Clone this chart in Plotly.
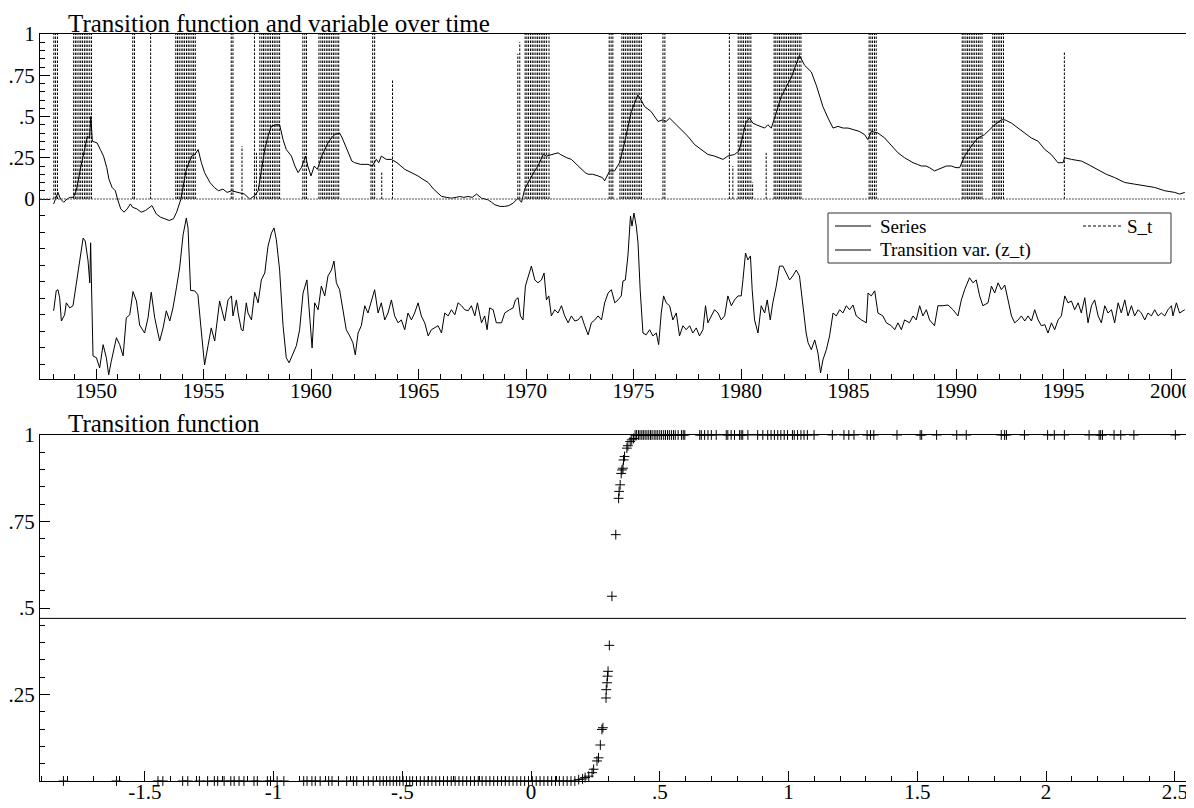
import plotly.graph_objects as go

# ---------------- data ----------------
# Top panel: "Series" (decimal year, value)
series_t = [
 1948.03, 1948.15, 1948.23, 1948.35, 1948.5, 1948.65, 1948.8, 1948.95, 1949.1, 1949.3,
 1949.5, 1949.6, 1949.7, 1949.76, 1949.83, 1950.05, 1950.2, 1950.35, 1950.5, 1950.6,
 1950.75, 1950.9, 1951.0, 1951.15, 1951.3, 1951.45, 1951.6, 1951.7, 1951.9, 1952.1,
 1952.3, 1952.5, 1952.6, 1952.8, 1953.0, 1953.2, 1953.4, 1953.6, 1953.75, 1953.95,
 1954.2, 1954.45, 1954.6, 1954.75, 1954.9, 1955.05, 1955.3, 1955.5, 1955.7, 1955.9,
 1956.1, 1956.3, 1956.6, 1956.9, 1957.15, 1957.38, 1957.54, 1957.7, 1957.85, 1958.0,
 1958.15, 1958.35, 1958.54, 1958.7, 1958.85, 1959.09, 1959.25, 1959.4, 1959.55, 1959.75,
 1959.85, 1960.0, 1960.15, 1960.3, 1960.5, 1960.79, 1960.95, 1961.1, 1961.33, 1961.45,
 1961.6, 1961.72, 1961.9, 1962.03, 1962.3, 1962.65, 1962.85, 1963.04, 1963.15, 1963.27,
 1963.5, 1963.74, 1964.0, 1964.36, 1964.7, 1964.97, 1965.2, 1965.45, 1965.7, 1965.9,
 1966.07, 1966.3, 1966.53, 1966.75, 1966.92, 1967.1, 1967.3, 1967.5, 1967.7, 1967.93,
 1968.24, 1968.4, 1968.55, 1968.8, 1969.0, 1969.2, 1969.4, 1969.63, 1969.79, 1969.94,
 1970.1, 1970.25, 1970.4, 1970.56, 1970.7, 1970.8, 1970.95, 1971.18, 1971.49, 1971.6,
 1971.72, 1971.9, 1972.11, 1972.35, 1972.58, 1972.75, 1972.89, 1973.1, 1973.35, 1973.55,
 1973.66, 1973.89, 1974.12, 1974.35, 1974.58, 1974.75, 1974.9, 1975.05, 1975.2, 1975.35,
 1975.52, 1975.82, 1976.0, 1976.14, 1976.37, 1976.52, 1976.68, 1976.91, 1977.22, 1977.53,
 1977.84, 1978.15, 1978.46, 1978.77, 1979.0, 1979.16, 1979.39, 1979.7, 1979.9, 1980.01,
 1980.15, 1980.24, 1980.4, 1980.55, 1980.71, 1980.9, 1981.1, 1981.25, 1981.41, 1981.56,
 1981.72, 1981.87, 1982.03, 1982.18, 1982.35, 1982.49, 1982.62, 1982.72, 1982.96, 1983.12,
 1983.27, 1983.5, 1983.65, 1983.81, 1984.05, 1984.28, 1984.51, 1984.75, 1984.98, 1985.29,
 1985.5, 1985.75, 1985.9, 1986.06, 1986.37, 1986.68, 1987.0, 1987.3, 1987.61, 1988.0,
 1988.2, 1988.39, 1988.6, 1988.77, 1989.0, 1989.32, 1989.55, 1989.78, 1990.0, 1990.17,
 1990.4, 1990.71, 1991.02, 1991.33, 1991.64, 1991.8, 1992.11, 1992.27, 1992.58, 1992.9,
 1993.2, 1993.5, 1993.82, 1994.13, 1994.43, 1994.74, 1994.98, 1995.05, 1995.37, 1995.83,
 1996.14, 1996.6, 1996.99, 1997.38, 1997.85, 1998.31, 1998.78, 1999.24, 1999.71, 2000.17,
 2000.4, 2000.64,
]
series_v = [
 -0.03, 0.02, 0.04, 0.0, -0.02, 0.0, 0.01, 0.01, 0.06, 0.2,
 0.33, 0.38, 0.37, 0.5, 0.35, 0.34, 0.3, 0.26, 0.19, 0.12,
 0.07, 0.05, 0.0, -0.06, -0.08, -0.06, -0.03, -0.05, -0.06, -0.08,
 -0.07, -0.05, -0.04, -0.09, -0.11, -0.12, -0.13, -0.12, -0.08, 0.0,
 0.18, 0.26, 0.27, 0.3, 0.22, 0.16, 0.1, 0.07, 0.05, 0.06,
 0.04, 0.05, 0.04, 0.03, 0.0, 0.02, 0.05, 0.18, 0.3, 0.38,
 0.44, 0.45, 0.45, 0.36, 0.3, 0.26, 0.2, 0.16, 0.19, 0.26,
 0.2, 0.14, 0.2, 0.18, 0.26, 0.34, 0.37, 0.39, 0.4, 0.37,
 0.32, 0.28, 0.23, 0.22, 0.21, 0.21, 0.2, 0.24, 0.22, 0.26,
 0.24, 0.24, 0.22, 0.18, 0.16, 0.14, 0.12, 0.1, 0.06, 0.035,
 0.016, 0.01, 0.005, 0.01, 0.015, 0.01, 0.015, 0.01, 0.03, 0.005,
 -0.005, -0.02, -0.035, -0.045, -0.045, -0.04, -0.025, 0.005, -0.02, 0.06,
 0.1, 0.14, 0.17, 0.2, 0.24, 0.27, 0.26, 0.27, 0.28, 0.27,
 0.26, 0.25, 0.24, 0.21, 0.18, 0.16, 0.15, 0.15, 0.14, 0.13,
 0.11, 0.17, 0.17, 0.22, 0.34, 0.44, 0.53, 0.58, 0.63, 0.6,
 0.56, 0.53, 0.5, 0.47, 0.48, 0.47, 0.49, 0.46, 0.42, 0.38,
 0.33, 0.3, 0.27, 0.26, 0.25, 0.24, 0.26, 0.27, 0.29, 0.34,
 0.42, 0.47, 0.49, 0.46, 0.45, 0.44, 0.43, 0.45, 0.43, 0.49,
 0.56, 0.62, 0.66, 0.7, 0.74, 0.79, 0.83, 0.87, 0.81, 0.79,
 0.77, 0.69, 0.62, 0.56, 0.49, 0.43, 0.44, 0.43, 0.43, 0.42,
 0.41, 0.39, 0.36, 0.41, 0.4, 0.37, 0.32, 0.28, 0.25, 0.22,
 0.21, 0.2, 0.2, 0.19, 0.17, 0.19, 0.2, 0.2, 0.19, 0.19,
 0.26, 0.32, 0.37, 0.39, 0.43, 0.45, 0.48, 0.48, 0.46, 0.43,
 0.4, 0.37, 0.35, 0.3, 0.27, 0.22, 0.22, 0.25, 0.24, 0.23,
 0.21, 0.18, 0.15, 0.13, 0.1, 0.09, 0.08, 0.07, 0.05, 0.04,
 0.03, 0.04,
]

# Top panel: "Transition var. (z_t)" (decimal year, z value in the units of the lower x axis)
z_t = [
 1948.03, 1948.15, 1948.23, 1948.31, 1948.39, 1948.54, 1948.62, 1948.78, 1948.93, 1949.01,
 1949.16, 1949.40, 1949.50, 1949.63, 1949.71, 1949.75, 1949.86, 1950.02, 1950.17, 1950.33,
 1950.48, 1950.59, 1950.71, 1950.95, 1951.10, 1951.26, 1951.41, 1951.57, 1951.72, 1951.88,
 1952.03, 1952.26, 1952.42, 1952.57, 1952.73, 1952.96, 1953.12, 1953.27, 1953.43, 1953.58,
 1953.74, 1953.89, 1954.05, 1954.20, 1954.28, 1954.40, 1954.59, 1954.74, 1954.87, 1955.05,
 1955.21, 1955.36, 1955.52, 1955.75, 1955.98,
 1956.14, 1956.30, 1956.37, 1956.53, 1956.61, 1956.76, 1956.84, 1956.99, 1957.07, 1957.23,
 1957.38, 1957.54, 1957.69, 1957.85, 1958.00, 1958.16, 1958.28, 1958.39, 1958.54, 1958.70,
 1958.85, 1958.98, 1959.16, 1959.32, 1959.47, 1959.63, 1959.81, 1959.94, 1960.05, 1960.17,
 1960.33, 1960.48, 1960.64, 1960.79, 1960.95, 1961.07, 1961.18, 1961.33, 1961.49, 1961.64,
 1961.80, 1961.95, 1962.06, 1962.19, 1962.34, 1962.50, 1962.65, 1962.81, 1962.96, 1963.12,
 1963.27, 1963.43, 1963.58, 1963.74, 1963.89, 1964.05, 1964.20, 1964.36, 1964.51, 1964.67,
 1964.82, 1964.98, 1965.13, 1965.29,
 1965.45, 1965.60, 1965.76, 1965.91, 1966.07, 1966.22, 1966.38, 1966.53, 1966.69, 1966.84,
 1967.00, 1967.15, 1967.31, 1967.46, 1967.62, 1967.74, 1967.93, 1968.08, 1968.19, 1968.31,
 1968.47, 1968.62, 1968.86, 1969.01, 1969.24, 1969.40, 1969.51, 1969.63, 1969.74, 1969.86,
 1969.97, 1970.10, 1970.25, 1970.41, 1970.56, 1970.72, 1970.84, 1970.95, 1971.06, 1971.18,
 1971.34, 1971.49, 1971.65, 1971.80, 1971.96, 1972.11, 1972.27, 1972.42, 1972.58, 1972.73,
 1972.89, 1973.04, 1973.20, 1973.35, 1973.51, 1973.66, 1973.82, 1973.97, 1974.13,
 1974.28, 1974.43, 1974.51, 1974.62, 1974.74, 1974.86, 1974.93, 1975.02, 1975.13, 1975.21,
 1975.31, 1975.44, 1975.59, 1975.75, 1975.90, 1976.06, 1976.17, 1976.29, 1976.40, 1976.52,
 1976.68, 1976.83, 1976.99, 1977.14, 1977.30, 1977.45, 1977.61, 1977.76, 1977.92, 1978.07,
 1978.23, 1978.35, 1978.46, 1978.62, 1978.77, 1978.93, 1979.08, 1979.24, 1979.39, 1979.55,
 1979.70, 1979.86, 1980.01, 1980.09, 1980.21, 1980.32, 1980.44, 1980.52, 1980.63, 1980.79,
 1980.94, 1981.10, 1981.22, 1981.36, 1981.48, 1981.64, 1981.79, 1981.95, 1982.10, 1982.26,
 1982.41, 1982.57, 1982.72, 1982.88, 1983.03,
 1983.12, 1983.27, 1983.43, 1983.58, 1983.70, 1983.81, 1983.97, 1984.12, 1984.28, 1984.43,
 1984.59, 1984.74, 1984.90, 1985.05, 1985.21, 1985.36, 1985.60, 1985.83, 1985.91, 1986.06,
 1986.22, 1986.37, 1986.60, 1986.76, 1986.99, 1987.15, 1987.30, 1987.46, 1987.61, 1987.84,
 1988.00, 1988.15, 1988.31, 1988.46, 1988.62, 1988.77, 1989.00, 1989.16, 1989.39, 1989.63,
 1989.86, 1990.09, 1990.25, 1990.40, 1990.63, 1990.79, 1990.94, 1991.10, 1991.25, 1991.49,
 1991.65, 1991.80, 1991.96, 1992.11, 1992.27, 1992.42, 1992.58, 1992.73, 1992.89, 1993.04,
 1993.20, 1993.35, 1993.51, 1993.66, 1993.82, 1993.97, 1994.13, 1994.28, 1994.44, 1994.59,
 1994.75, 1994.90, 1995.06, 1995.21, 1995.37, 1995.52, 1995.68, 1995.83, 1995.99, 1996.14,
 1996.30, 1996.45, 1996.61, 1996.76, 1996.92, 1997.07, 1997.23, 1997.38, 1997.54, 1997.69,
 1997.85, 1998.00, 1998.16, 1998.31, 1998.47, 1998.62, 1998.78, 1998.93, 1999.09, 1999.24,
 1999.40, 1999.55, 1999.71, 1999.86, 2000.02, 2000.09, 2000.25, 2000.40, 2000.64,
]
z_v = [
 -0.11, 0.44, 0.47, 0.25, -0.39, -0.22, 0.11, -0.03, 0.03, 0.33,
 0.88, 1.89, 1.81, 1.26, 0.66, 1.76, -1.35, -1.4, -1.68, -1.04,
 -1.4, -1.87, -1.5, -0.85, -1.04, -1.35, -0.3, -0.22, 0.42, 0.16,
 -0.5, -0.72, -0.3, 0.4, -0.3, -0.94, -0.58, -0.11, -0.39, -0.03,
 0.52, 1.07, 1.98, 2.44, 2.17, 0.45, 0.44, 0.33, -0.5, -1.6,
 -1.07, -0.58, -0.94, 0.16, -0.39,
 0.19, 0.3, -0.25, 0.19, -0.17, -0.63, -0.66, 0.11, -0.17, -0.36,
 0.4, 0.11, 0.74, 0.93, 1.67, 2.03, 2.17, 1.84, 1.01, -0.52,
 -1.4, -1.54, -1.27, -1.07, -0.63, 0.38, 0.74, -0.25, -1.13, 0.11,
 -0.08, 0.57, 0.3, 0.85, 1.01, 1.26, 0.66, 0.47, -0.08, -0.63,
 -0.8, -0.99, -1.32, -0.72, -0.52, 0.03, -0.17, 0.19, 0.47, -0.17,
 0.11, -0.36, -0.17, 0.19, -0.25, -0.44, -0.36, -0.63, -0.17, -0.36,
 -0.17, 0.11, -0.25, -0.44,
 -0.8, -0.63, -0.58, -0.52, -0.72, -0.17, -0.25, -0.08, -0.22, 0.11,
 0.03, -0.08, -0.11, 0.03, -0.25, 0.11, -0.44, -0.25, -0.63, -0.03,
 -0.08, -0.44, -0.44, -0.17, -0.08, -0.03, 0.19, 0.25, -0.25, -0.36,
 0.57, 0.85, 1.12, 0.74, 0.66, 0.74, 0.93, 0.19, 0.3, -0.25,
 -0.08, -0.17, 0.03, -0.25, -0.44, -0.25, -0.39, -0.36, -0.25, -0.52,
 -0.77, -0.44, -0.36, -0.25, -0.36, 0.11, 0.38, 0.47, 0.11,
 0.19, 0.3, 0.71, 0.74, 1.4, 2.5, 2.22, 2.58, 2.22, 1.76,
 0.47, -0.72, -0.77, -0.63, -0.8, -0.72, -1.04, -0.17, 0.3, 0.11,
 0.03, -0.36, -0.17, -0.8, -0.52, -0.63, -0.52, -0.72, -0.58, -0.8,
 -0.63, 0.03, -0.44, -0.25, -0.08, -0.17, -0.36, -0.25, 0.3, 0.03,
 0.19, 0.3, 0.3, 0.74, 1.48, 1.29, 1.4, 0.47, -0.36, -0.72,
 0.03, -0.17, 0.19, -0.36, 0.11, 0.57, 1.12, 1.12, 0.93, 0.74,
 0.85, 1.01, 0.85, 0.03, -0.72,
 -0.99, -1.18, -0.91, -1.27, -1.82, -1.46, -1.18, -0.8, -0.17, -0.25,
 -0.08, -0.17, 0.03, -0.08, 0.05, -0.25, -0.36, -0.44, 0.38, 0.3,
 0.44, -0.17, -0.25, -0.44, -0.52, -0.63, -0.44, -0.63, -0.36, -0.44,
 -0.25, -0.36, 0.03, -0.25, -0.08, -0.36, -0.52, 0.03, 0.03, 0.05,
 -0.08, -0.25, 0.19, 0.47, 0.8, 0.66, 0.74, 0.3, 0.03, 0.11,
 0.57, 0.38, 0.66, 0.47, 0.6, 0.19, -0.25, -0.44, -0.36, -0.25,
 -0.39, -0.25, -0.39, -0.08, -0.36, -0.52, -0.49, -0.72, -0.44, -0.63,
 -0.36, -0.25, 0.3, 0.11, 0.16, -0.08, 0.11, -0.17, 0.25, -0.44,
 0.03, 0.19, -0.25, -0.44, 0.03, -0.17, -0.08, -0.44, 0.11, -0.17,
 0.19, -0.25, 0.03, -0.25, -0.08, -0.17, -0.36, -0.17, -0.25, -0.08,
 -0.25, -0.17, -0.25, -0.08, 0.03, -0.25, 0.11, -0.17, -0.08,
]

# Top panel: "S_t" drawn as dashed spikes (decimal year, S value)
st_t = [
 1948.04, 1948.12, 1948.21,
 1948.96, 1949.04, 1949.12, 1949.21, 1949.29, 1949.37, 1949.46, 1949.54, 1949.62, 1949.71, 1949.79,
 1951.71, 1951.79,
 1952.54,
 1953.71, 1953.79, 1953.87, 1953.96, 1954.04, 1954.12, 1954.21, 1954.29, 1954.37, 1954.46, 1954.54, 1954.62,
 1956.29, 1956.37, 1956.79,
 1957.37, 1957.46,
 1957.62, 1957.71, 1957.79, 1957.87, 1957.96, 1958.04, 1958.12, 1958.21, 1958.29, 1958.37, 1958.46, 1958.54,
 1959.62, 1959.71, 1959.79,
 1960.37, 1960.46, 1960.54, 1960.62, 1960.71, 1960.79, 1960.87, 1960.96, 1961.04, 1961.12, 1961.21, 1961.29,
 1962.79, 1962.87, 1962.96, 1963.29, 1963.79,
 1969.62, 1969.71,
 1969.96, 1970.04, 1970.12, 1970.21, 1970.29, 1970.37, 1970.46, 1970.54, 1970.62, 1970.71, 1970.79, 1970.87, 1970.96, 1971.07,
 1973.87, 1973.96, 1974.04,
 1974.37,
 1974.46, 1974.54, 1974.62, 1974.71, 1974.79, 1974.87, 1974.96, 1975.04, 1975.12, 1975.21, 1975.29, 1975.37,
 1976.37, 1976.46,
 1979.46, 1979.62,
 1979.87, 1979.96, 1980.04, 1980.12, 1980.21, 1980.29, 1980.37, 1980.46, 1980.54,
 1981.17,
 1981.54, 1981.62, 1981.71, 1981.79, 1981.87, 1981.96, 1982.04, 1982.12, 1982.21, 1982.29, 1982.37, 1982.46, 1982.54, 1982.62, 1982.71, 1982.79,
 1985.96, 1986.04, 1986.12, 1986.21, 1986.29,
 1990.29, 1990.37, 1990.46, 1990.54, 1990.62, 1990.71, 1990.79, 1990.87, 1990.96, 1991.04, 1991.12, 1991.21,
 1991.71, 1991.79, 1991.87, 1991.96, 1992.04, 1992.12, 1992.21,
 1995.04,
]
st_v = [
 1, 1, 1,
 1, 1, 1, 1, 1, 1, 1, 1, 1, 1, 1,
 1, 1,
 1,
 1, 1, 1, 1, 1, 1, 1, 1, 1, 1, 1, 1,
 1, 1, 0.32,
 1, 0.28,
 1, 1, 1, 1, 1, 1, 1, 1, 1, 1, 1, 1,
 1, 1, 1,
 1, 1, 1, 1, 1, 1, 1, 1, 1, 1, 1, 1,
 0.53, 1, 1, 0.16, 0.72,
 0.88, 0.95,
 1, 1, 1, 1, 1, 1, 1, 1, 1, 1, 1, 1, 1, 1,
 1, 1, 1,
 0.39,
 1, 1, 1, 1, 1, 1, 1, 1, 1, 1, 1, 1,
 1, 1,
 1, 0.2,
 1, 1, 1, 1, 1, 1, 1, 1, 0.1,
 0.28,
 1, 1, 1, 1, 1, 1, 1, 1, 1, 1, 1, 1, 1, 1, 1, 1,
 1, 1, 1, 1, 1,
 1, 1, 1, 1, 1, 1, 1, 1, 1, 1, 1, 1,
 1, 1, 1, 1, 1, 1, 1,
 0.89,
]

# Bottom panel: transition function S against z
tf_z_at_0 = [
 -1.816, -1.61, -1.449, -1.43, -1.353, -1.333, -1.288, -1.256, -1.23, -1.217,
 -1.192, -1.166, -1.153, -1.134, -1.115, -1.076, -1.063, -1.024, -1.012, -0.986,
 -0.96, -0.883, -0.87, -0.851, -0.838, -0.819, -0.786, -0.773, -0.748, -0.716,
 -0.69, -0.677, -0.651, -0.632, -0.613, -0.587, -0.574, -0.561, -0.548, -0.535,
 -0.522, -0.51, -0.497, -0.484, -0.471, -0.46, -0.445, -0.43, -0.415, -0.40,
 -0.385, -0.37, -0.355, -0.34, -0.325, -0.31, -0.295, -0.28, -0.265, -0.25,
 -0.235, -0.22, -0.205, -0.19, -0.175, -0.16, -0.145, -0.13, -0.115, -0.10,
 -0.085, -0.07, -0.055, -0.04, -0.025, -0.01, 0.005, 0.02, 0.035, 0.05,
 0.065, 0.08, 0.095, 0.11, 0.125, 0.14, 0.155, 0.17,
]
tf_mid_z = [
 0.185, 0.2, 0.21, 0.224, 0.237, 0.243, 0.256, 0.262, 0.269, 0.275,
 0.279, 0.291, 0.292, 0.295, 0.297, 0.299, 0.304, 0.314, 0.329, 0.34,
 0.342, 0.346, 0.35, 0.353, 0.357, 0.359, 0.363, 0.372, 0.376, 0.385,
 0.391, 0.398,
]
tf_mid_s = [
 0.004, 0.006, 0.01, 0.014, 0.024, 0.034, 0.058, 0.067, 0.104, 0.149,
 0.154, 0.24, 0.264, 0.284, 0.303, 0.317, 0.392, 0.534, 0.712, 0.817,
 0.837, 0.856, 0.889, 0.899, 0.904, 0.928, 0.938, 0.962, 0.969, 0.981,
 0.986, 0.99,
]
tf_z_at_1 = [
 0.404, 0.41, 0.417, 0.423, 0.43, 0.436, 0.443, 0.45, 0.457, 0.464,
 0.47, 0.478, 0.485, 0.492, 0.5, 0.507, 0.515, 0.522, 0.53, 0.537,
 0.545, 0.553, 0.56, 0.571, 0.584, 0.591, 0.597, 0.655, 0.661, 0.674,
 0.687, 0.7, 0.719, 0.758, 0.764, 0.777, 0.79, 0.81, 0.816, 0.822,
 0.842, 0.88, 0.9, 0.919, 0.932, 0.945, 0.958, 0.97, 0.983, 0.996,
 1.015, 1.022, 1.035, 1.048, 1.06, 1.073, 1.099, 1.17, 1.215, 1.234,
 1.254, 1.305, 1.318, 1.331, 1.421, 1.511, 1.517, 1.575, 1.653, 1.69,
 1.826, 1.839, 1.846, 1.916, 2.006, 2.032, 2.071, 2.167, 2.206, 2.212,
 2.219, 2.264, 2.29, 2.341, 2.502, 2.578,
]
ref_level = 0.47

year_ticks = [1950, 1955, 1960, 1965, 1970, 1975, 1980, 1985, 1990, 1995, 2000]
top_y_ticks = [0, 0.25, 0.5, 0.75, 1]
top_y_labels = ["0", ".25", ".5", ".75", "1"]
z_ticks = [-1.5, -1, -0.5, 0, 0.5, 1, 1.5, 2, 2.5]
z_labels = ["-1.5", "-1", "-.5", "0", ".5", "1", "1.5", "2", "2.5"]
s_ticks = [0.25, 0.5, 0.75, 1]
s_labels = [".25", ".5", ".75", "1"]

assert len(series_t) == len(series_v)
assert len(z_t) == len(z_v)
assert len(st_t) == len(st_v)
assert len(tf_mid_z) == len(tf_mid_s)

# ---------------- figure ----------------
W, H = 1194, 808
FONT = "Liberation Serif, Times New Roman, serif"


def px(xp):
    return xp / W


def py(yp):
    return 1 - yp / H


X0, X1 = px(32), px(1190)

fig = go.Figure()

spike_x, spike_y = [], []
for t, v in zip(st_t, st_v):
    spike_x += [t, t, None]
    spike_y += [0, v, None]
fig.add_trace(go.Scatter(x=spike_x, y=spike_y, mode="lines", xaxis="x", yaxis="y",
                         line=dict(color="black", width=1, dash="2.5px,1.5px"),
                         hoverinfo="skip", showlegend=False))
fig.add_trace(go.Scatter(x=series_t, y=series_v, mode="lines", xaxis="x", yaxis="y",
                         line=dict(color="black", width=1), name="Series", showlegend=False))
fig.add_trace(go.Scatter(x=z_t, y=z_v, mode="lines", xaxis="x", yaxis="y3",
                         line=dict(color="black", width=1), name="Transition var. (z_t)",
                         showlegend=False))

tf_x = tf_z_at_0 + tf_mid_z + tf_z_at_1
tf_y = [0.0] * len(tf_z_at_0) + tf_mid_s + [1.0] * len(tf_z_at_1)
fig.add_trace(go.Scatter(x=tf_x, y=tf_y, mode="markers", xaxis="x2", yaxis="y2",
                         marker=dict(symbol="cross-thin", size=7, color="black",
                                     line=dict(color="black", width=1)),
                         cliponaxis=False, showlegend=False))

axis_common = dict(showline=True, linecolor="black", linewidth=1, mirror=True,
                   showgrid=False, zeroline=False, ticks="inside", ticklen=10,
                   tickwidth=1, tickcolor="black", automargin=False,
                   tickfont=dict(family=FONT, size=21, color="black"))
minor_common = dict(ticks="inside", ticklen=5, tickwidth=1, tickcolor="black", showgrid=False)

top_minor_y = [round(0.05 * i, 2) for i in range(1, 20)] + [round(-0.1 * i, 2) for i in range(1, 11)]
bot_minor_x = [round(-1.9 + 0.1 * i, 2) for i in range(0, 46)]
bot_minor_y = [round(0.05 * i, 2) for i in range(1, 20)]

fig.update_layout(
    width=W, height=H,
    margin=dict(l=0, r=0, t=0, b=0),
    paper_bgcolor="white", plot_bgcolor="white",
    font=dict(family=FONT, size=21, color="black"),
    showlegend=False,
    xaxis=dict(domain=[X0, X1], range=[1947.395, 2001.256], anchor="y",
               tickmode="array", tickvals=year_ticks, ticktext=[str(y) for y in year_ticks],
               ticklabelstandoff=-7,
               minor=dict(tickmode="array", tickvals=list(range(1948, 2002)), **minor_common),
               **axis_common),
    yaxis=dict(domain=[py(371), py(26)], range=[-1.0909, 1.0], anchor="x",
               tickmode="array", tickvals=top_y_ticks, ticktext=top_y_labels,
               minor=dict(tickmode="array", tickvals=top_minor_y, **minor_common),
               **axis_common),
    yaxis3=dict(overlaying="y", anchor="x", range=[-1.985, 7.503], visible=False),
    xaxis2=dict(domain=[X0, X1], range=[-1.907, 2.59], anchor="y2",
                tickmode="array", tickvals=z_ticks, ticktext=z_labels,
                ticklabelstandoff=-8,
                minor=dict(tickmode="array", tickvals=bot_minor_x, **minor_common),
                **axis_common),
    yaxis2=dict(domain=[py(773), py(427)], range=[0, 1], anchor="x2",
                tickmode="array", tickvals=s_ticks, ticktext=s_labels,
                minor=dict(tickmode="array", tickvals=bot_minor_y, **minor_common),
                **axis_common),
)

shapes = [
    dict(type="line", xref="paper", yref="y", x0=X0, x1=X1, y0=0, y1=0,
         line=dict(color="#555555", width=1, dash="2px,1px")),
    dict(type="line", xref="x2 domain", yref="y2", x0=0, x1=1, y0=ref_level, y1=ref_level,
         line=dict(color="black", width=1)),
    dict(type="rect", xref="paper", yref="paper", x0=px(820), x1=px(1163), y0=py(255), y1=py(205),
         line=dict(color="#333333", width=1), fillcolor="white", layer="above"),
    dict(type="line", xref="paper", yref="paper", x0=px(827), x1=px(863), y0=py(218), y1=py(218),
         line=dict(color="black", width=1), layer="above"),
    dict(type="line", xref="paper", yref="paper", x0=px(827), x1=px(863), y0=py(242), y1=py(242),
         line=dict(color="black", width=1), layer="above"),
    dict(type="line", xref="paper", yref="paper", x0=px(1075), x1=px(1113), y0=py(218), y1=py(218),
         line=dict(color="black", width=1, dash="3px,2px"), layer="above"),
]
fig.update_layout(shapes=shapes)

annotations = []
for text, xp, yp in [("Transition function and variable over time", 58, 15),
                     ("Transition function", 58, 415)]:
    annotations.append(dict(text=text, x=px(xp), y=py(yp), xref="paper", yref="paper",
                            xanchor="left", yanchor="middle", showarrow=False,
                            font=dict(family=FONT, size=25, color="black")))
for text, xp, yp in [("Series", 870, 218), ("Transition var. (z_t)", 870, 242), ("S_t", 1117, 218)]:
    annotations.append(dict(text=text, x=px(xp), y=py(yp), xref="paper", yref="paper",
                            xanchor="left", yanchor="middle", showarrow=False,
                            font=dict(family=FONT, size=19, color="black")))
fig.update_layout(annotations=annotations)

fig.write_html("out.html")
